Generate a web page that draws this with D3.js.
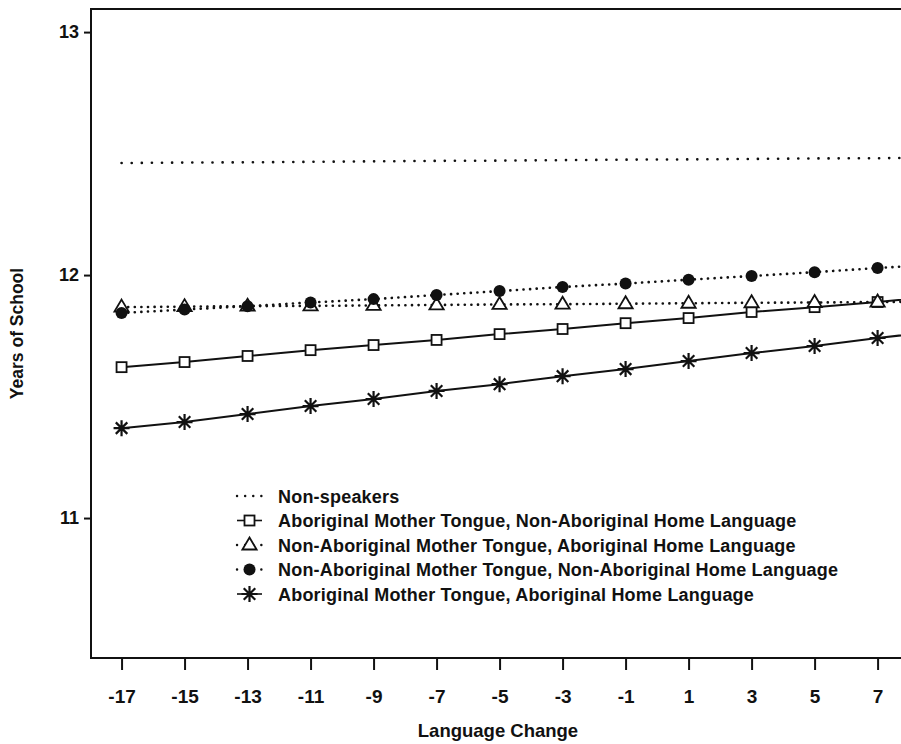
<!DOCTYPE html>
<html>
<head>
<meta charset="utf-8">
<script src="https://cdn.jsdelivr.net/npm/d3@7"></script>
<style>
  body { margin: 0; background: #fff; }
  svg text { font-family: "Liberation Sans", Arial, Helvetica, sans-serif; font-weight: bold; fill: #111; }
</style>
</head>
<body>
<div id="chart"></div>
<script>
// language change values (x) - last one is just past the visible edge
const langChange = [-17, -15, -13, -11, -9, -7, -5, -3, -1, 1, 3, 5, 7, 9];
const xTicks = [-17, -15, -13, -11, -9, -7, -5, -3, -1, 1, 3, 5, 7];
const yTicks = [11, 12, 13];

// predicted years of school
const nonSpeakers = [12.461, 12.463, 12.464, 12.466, 12.468, 12.470, 12.471, 12.473, 12.475, 12.476, 12.478, 12.480, 12.481, 12.483];
const amtNahl = [11.621, 11.642, 11.667, 11.691, 11.712, 11.733, 11.757, 11.778, 11.802, 11.823, 11.848, 11.868, 11.889, 11.914];
const namtAhl = [11.868, 11.870, 11.872, 11.873, 11.875, 11.877, 11.879, 11.880, 11.882, 11.884, 11.886, 11.887, 11.889, 11.891];
const namtNahl = [11.844, 11.858, 11.872, 11.887, 11.901, 11.918, 11.934, 11.951, 11.965, 11.981, 11.996, 12.012, 12.029, 12.045];
const amtAhl = [11.370, 11.395, 11.428, 11.461, 11.490, 11.523, 11.551, 11.584, 11.613, 11.646, 11.679, 11.708, 11.741, 11.770];

const seriesNames = [
  "Non-speakers",
  "Aboriginal Mother Tongue, Non-Aboriginal Home Language",
  "Non-Aboriginal Mother Tongue, Aboriginal Home Language",
  "Non-Aboriginal Mother Tongue, Non-Aboriginal Home Language",
  "Aboriginal Mother Tongue, Aboriginal Home Language"
];

const series = [
  { name: seriesNames[0], values: nonSpeakers, dash: "0.1,10", marker: null },
  { name: seriesNames[1], values: amtNahl, dash: null, marker: "square" },
  { name: seriesNames[2], values: namtAhl, dash: "0.1,6.5", marker: "triangle" },
  { name: seriesNames[3], values: namtNahl, dash: "0.1,6.5", marker: "circle" },
  { name: seriesNames[4], values: amtAhl, dash: null, marker: "star" }
];

const width = 901, height = 744;

const svg = d3.select("#chart").append("svg")
  .attr("width", width)
  .attr("height", height);

const x = d3.scaleLinear().domain([-17.97, 7.87]).range([91, 905]);
const y = d3.scaleLinear().domain([10.424, 13.095]).range([658, 9]);

const plotLeft = x.range()[0], plotRight = x.range()[1];
const plotTop = y.range()[1], plotBottom = y.range()[0];

svg.append("defs").append("clipPath").attr("id", "plotclip")
  .append("rect")
  .attr("x", plotLeft).attr("y", plotTop)
  .attr("width", plotRight - plotLeft).attr("height", plotBottom - plotTop);

// frame
svg.append("rect")
  .attr("x", plotLeft).attr("y", plotTop)
  .attr("width", plotRight - plotLeft).attr("height", plotBottom - plotTop)
  .attr("fill", "none").attr("stroke", "#111").attr("stroke-width", 2);

// axes
const xAxis = svg.append("g")
  .attr("transform", `translate(0,${plotBottom})`)
  .call(d3.axisBottom(x).tickValues(xTicks).tickSize(12).tickPadding(20).tickFormat(d => String(d)));
xAxis.select(".domain").remove();
xAxis.selectAll("line").attr("stroke", "#111").attr("stroke-width", 2);
xAxis.selectAll("text").style("font-size", "19px").attr("fill", "#111");

const yAxis = svg.append("g")
  .attr("transform", `translate(${plotLeft},0)`)
  .call(d3.axisLeft(y).tickValues(yTicks).tickSize(7).tickPadding(5).tickFormat(d => String(d)));
yAxis.select(".domain").remove();
yAxis.selectAll("line").attr("stroke", "#111").attr("stroke-width", 2);
yAxis.selectAll("text").style("font-size", "18px").attr("fill", "#111");

svg.append("text")
  .attr("x", (plotLeft + plotRight) / 2).attr("y", 737)
  .attr("text-anchor", "middle")
  .style("font-size", "18.5px")
  .text("Language Change");

svg.append("text")
  .attr("transform", `translate(23,${(plotTop + plotBottom) / 2}) rotate(-90)`)
  .attr("text-anchor", "middle")
  .style("font-size", "17.5px")
  .text("Years of School");

// markers
function drawMarker(g, type, cx, cy) {
  if (type === "square") {
    g.append("rect").attr("x", cx - 5).attr("y", cy - 5).attr("width", 10).attr("height", 10)
      .attr("fill", "#fff").attr("stroke", "#111").attr("stroke-width", 1.8);
  } else if (type === "triangle") {
    const r = 7.5;
    g.append("path")
      .attr("d", `M${cx},${cy - r} L${cx + r * 0.95},${cy + r * 0.6} L${cx - r * 0.95},${cy + r * 0.6} Z`)
      .attr("fill", "#fff").attr("stroke", "#111").attr("stroke-width", 1.8);
  } else if (type === "circle") {
    g.append("circle").attr("cx", cx).attr("cy", cy).attr("r", 6).attr("fill", "#111");
  } else if (type === "star") {
    const r = 8, d = r * 0.72;
    g.append("path")
      .attr("d", `M${cx - r},${cy} L${cx + r},${cy} M${cx},${cy - r} L${cx},${cy + r} M${cx - d},${cy - d} L${cx + d},${cy + d} M${cx - d},${cy + d} L${cx + d},${cy - d}`)
      .attr("stroke", "#111").attr("stroke-width", 2.2).attr("fill", "none");
  }
}

const plot = svg.append("g").attr("clip-path", "url(#plotclip)");
const line = d3.line().x((d, i) => x(langChange[i])).y(d => y(d));

series.forEach(s => {
  plot.append("path")
    .datum(s.values)
    .attr("d", line)
    .attr("fill", "none")
    .attr("stroke", "#111")
    .attr("stroke-width", s.dash ? 2.6 : 2)
    .attr("stroke-dasharray", s.dash)
    .attr("stroke-linecap", s.dash ? "round" : "butt");
});

series.forEach(s => {
  if (!s.marker) return;
  const mg = plot.append("g");
  s.values.forEach((v, i) => drawMarker(mg, s.marker, x(langChange[i]), y(v)));
});

// legend
const legend = svg.append("g");
series.forEach((s, i) => {
  const ly = 496 + i * 24.5;
  legend.append("line")
    .attr("x1", 237).attr("x2", 262).attr("y1", ly).attr("y2", ly)
    .attr("stroke", "#111").attr("stroke-width", s.dash ? 2.4 : 1.6)
    .attr("stroke-dasharray", s.dash ? "0.1,8" : null)
    .attr("stroke-linecap", s.dash ? "round" : "butt");
  if (s.marker) drawMarker(legend, s.marker, 249.5, ly);
  legend.append("text")
    .attr("x", 278).attr("y", ly + 6.5)
    .style("font-size", "18px")
    .style("letter-spacing", "0.2px")
    .text(s.name);
});
</script>
</body>
</html>
